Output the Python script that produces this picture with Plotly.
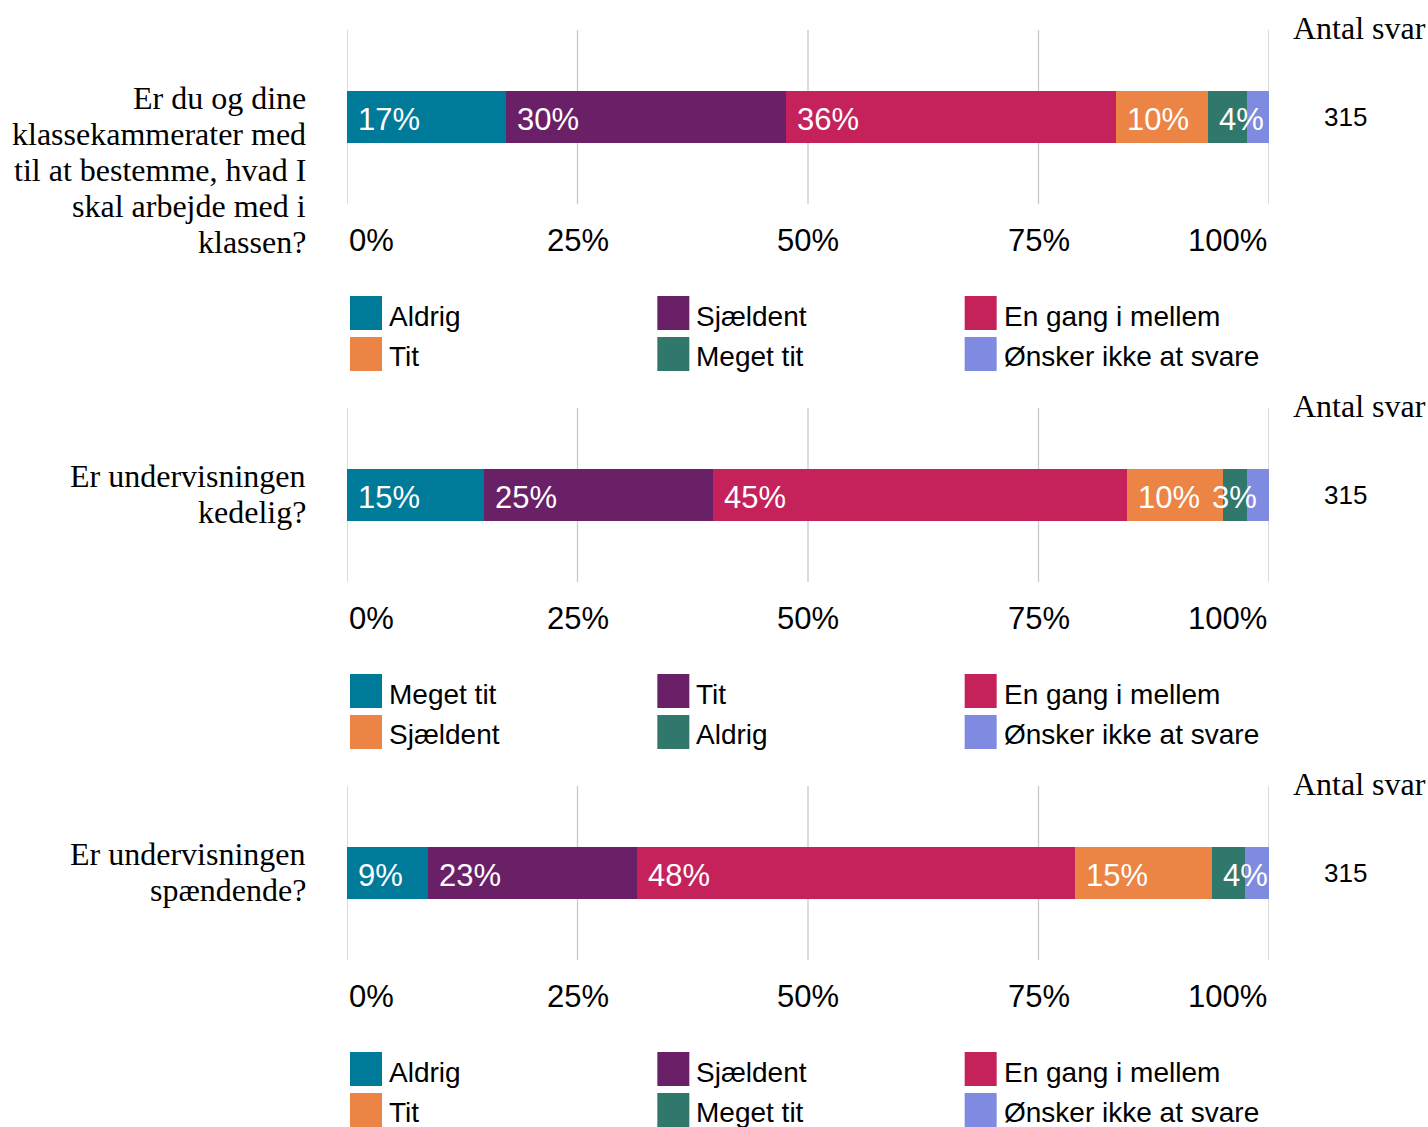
import plotly.graph_objects as go

# ---------------- data ----------------
series_colors = ["#007a99", "#6a2066", "#c5215a", "#eb8445", "#31786c", "#7f8be0"]

question_1 = ["Er du og dine", "klassekammerater med", "til at bestemme, hvad I",
              "skal arbejde med i", "klassen?"]
question_2 = ["Er undervisningen", "kedelig?"]
question_3 = ["Er undervisningen", "spændende?"]

categories_1 = ["Aldrig", "Sjældent", "En gang i mellem", "Tit", "Meget tit", "Ønsker ikke at svare"]
categories_2 = ["Meget tit", "Tit", "En gang i mellem", "Sjældent", "Aldrig", "Ønsker ikke at svare"]
categories_3 = ["Aldrig", "Sjældent", "En gang i mellem", "Tit", "Meget tit", "Ønsker ikke at svare"]

values_1 = [17.2, 30.4, 35.8, 10.0, 4.2, 2.4]
values_2 = [14.9, 24.8, 44.9, 10.4, 2.6, 2.4]
values_3 = [8.8, 22.6, 47.6, 14.8, 3.6, 2.6]

answers = [315, 315, 315]
count_header = "Antal svar"

tick_values = [0, 25, 50, 75, 100]
tick_labels = ["0%", "25%", "50%", "75%", "100%"]

# ---------------- layout constants ----------------
W, H = 1428, 1127
SANS = "Liberation Sans, Arial, sans-serif"
SERIF = "Liberation Serif, Times New Roman, serif"
x_dom = [347 / W, 1269 / W]
panel_tops = [30, 408, 786]
panel_h = 174
y_doms = [[1 - (t + panel_h) / H, 1 - t / H] for t in panel_tops]

panels = [
    (question_1, categories_1, values_1),
    (question_2, categories_2, values_2),
    (question_3, categories_3, values_3),
]

fig = go.Figure()
annotations = []
shapes = []

for i, (q_lines, cats, vals) in enumerate(panels):
    sfx = "" if i == 0 else str(i + 1)
    xa, ya = "x" + sfx, "y" + sfx
    key = "Q%d" % (i + 1)

    # vertical gridlines at the tick values (including both ends)
    for tv in tick_values:
        shapes.append(dict(
            type="line", xref=xa, yref=ya + " domain", x0=tv, x1=tv, y0=0, y1=1,
            line=dict(color="#c6c9ce", width=1.3), layer="below",
        ))

    start = 0.0
    for j, (c, v) in enumerate(zip(cats, vals)):
        fig.add_trace(go.Bar(
            x=[v], y=[key], orientation="h", width=0.3, name=c,
            marker=dict(color=series_colors[j], line=dict(width=0)),
            xaxis=xa, yaxis=ya, showlegend=False,
            hovertemplate=c + ": %{x:.1f}%<extra></extra>",
        ))
        # segment label (last category not labelled)
        if j < len(vals) - 1:
            if v < 3:
                ax, xanch, xs = start + v / 2, "center", 0
            else:
                ax, xanch, xs = start, "left", 9
            annotations.append(dict(
                x=ax, xref=xa, y=0.5, yref=ya + " domain", xanchor=xanch, yanchor="middle",
                xshift=xs, yshift=-2, text="%d%%" % round(v), showarrow=False,
                font=dict(family=SANS, size=31, color="white"),
            ))
        start += v

    # tick labels
    for k, (tv, tl) in enumerate(zip(tick_values, tick_labels)):
        anch = "left" if k == 0 else ("right" if k == len(tick_values) - 1 else "center")
        annotations.append(dict(
            x=tv, xref=xa, y=0, yref=ya + " domain", xanchor=anch, yanchor="middle",
            yshift=-36, text=tl, showarrow=False,
            font=dict(family=SANS, size=31, color="black"),
        ))

    # question text lines
    for li, line in enumerate(q_lines):
        annotations.append(dict(
            x=308 / W, xref="paper", y=1, yref=ya + " domain", xanchor="right",
            yanchor="middle", yshift=-(68 + 36 * li), text=line, showarrow=False,
            font=dict(family=SERIF, size=32, color="black"),
        ))

    # count header and value
    annotations.append(dict(
        x=1428 / W, xref="paper", y=1, yref=ya + " domain", xanchor="right",
        yanchor="middle", yshift=2, text=count_header, showarrow=False,
        font=dict(family=SERIF, size=32, color="black"),
    ))
    annotations.append(dict(
        x=1345 / W, xref="paper", y=0.5, yref=ya + " domain", xanchor="center",
        yanchor="middle", text=str(answers[i]), showarrow=False,
        font=dict(family=SANS, size=26, color="black"),
    ))

    # legend (3 columns, row-major)
    for j, c in enumerate(cats):
        col, row = j % 3, j // 3
        frac = col / 3
        y_top = -92 - 41 * row
        shapes.append(dict(
            type="rect", xref=xa + " domain", yref=ya + " domain",
            xsizemode="pixel", ysizemode="pixel", xanchor=frac, yanchor=0,
            x0=3, x1=35, y0=y_top - 34, y1=y_top,
            fillcolor=series_colors[j], line=dict(width=0),
        ))
        annotations.append(dict(
            x=frac, xref=xa + " domain", y=0, yref=ya + " domain",
            xanchor="left", yanchor="middle", xshift=40, yshift=y_top - 20 + row,
            text=c, showarrow=False,
            font=dict(family=SANS, size=28, color="black"),
        ))

layout_axes = {}
for i in range(3):
    sfx = "" if i == 0 else str(i + 1)
    layout_axes["xaxis" + sfx] = dict(
        domain=x_dom, range=[0, 100], tickvals=tick_values, showticklabels=False,
        showgrid=False, zeroline=False,
        showline=False, anchor="y" + sfx, fixedrange=True, ticks="",
    )
    layout_axes["yaxis" + sfx] = dict(
        domain=y_doms[i], range=[-0.5, 0.5], showticklabels=False, showgrid=False,
        zeroline=False, showline=False, anchor="x" + sfx, type="category",
        fixedrange=True,
    )

fig.update_layout(
    width=W, height=H, margin=dict(l=0, r=0, t=0, b=0),
    paper_bgcolor="white", plot_bgcolor="white",
    barmode="stack", annotations=annotations, shapes=shapes,
    **layout_axes,
)

fig.write_html("out.html", config={"displayModeBar": False},
               post_script="document.body.style.margin='0';")
